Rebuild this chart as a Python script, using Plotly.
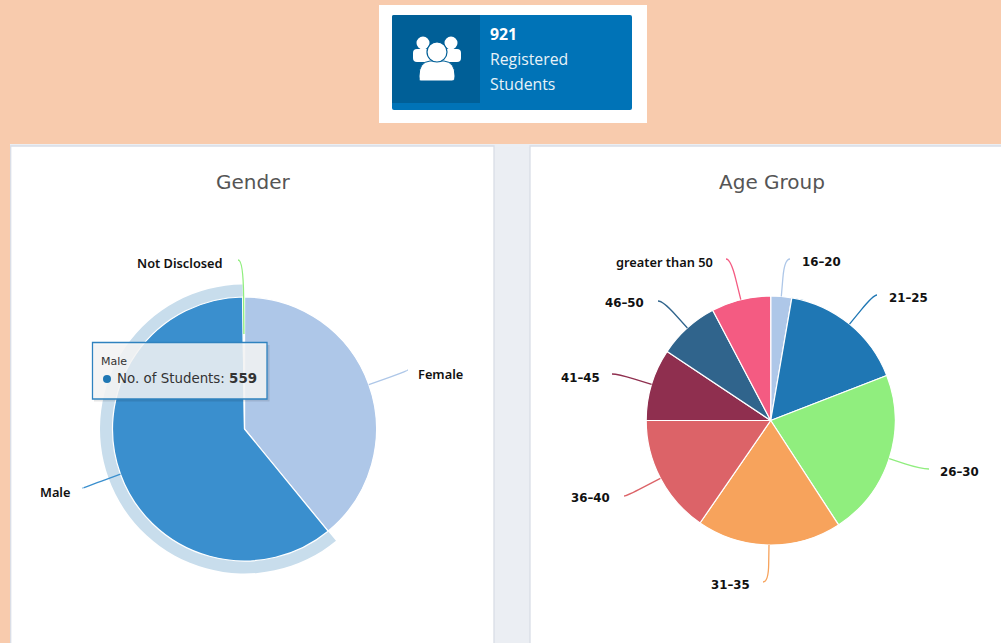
import math
import plotly.graph_objects as go

W, H = 1001, 643

# ---- data ----
gender_labels = ["Female", "Male", "Not Disclosed"]
gender_values = [360, 559, 2]
gender_colors = ["#aec7e8", "#3a8fce", "#90ee7e"]
age_labels = ["16-20", "21-25", "26-30", "31-35", "36-40", "41-45", "46-50", "greater than 50"]
age_values = [25, 151, 200, 173, 142, 86, 73, 71]
age_colors = ["#aec7e8", "#1f77b4", "#90ee7e", "#f7a35c", "#dc6368", "#8f2f4f", "#30648c", "#f45b82"]
registered_students = 921
badge_lines = ["Registered", "Students"]
tooltip_series = "No. of Students"

# ---- layout constants (pixels) ----
PEACH, GAP, BORDER = "#f8cbad", "#ebeef3", "#d9dde6"
LABEL_FONT = dict(family="Noto Sans", size=12.8, color="#111111", weight=600)
RANGE_FONT = dict(family="DejaVu Sans", size=11.8, color="#111111", weight=600)
G_C, G_R, G_HALO = (244.5, 429), 132, 144.5
A_C, A_R = (770.7, 420.5), 124.5
gender_anchor = {  # connector end, label x, label y, label side
    "Female": ((407, 370), 418, 374, "left"),
    "Male": ((83, 488), 70, 492, "right"),
    "Not Disclosed": ((238, 260), 223, 263, "right"),
}
age_anchor = {
    "16-20": ((790, 259), 802, 262, "left"),
    "21-25": ((877, 295), 889, 298, "left"),
    "26-30": ((929, 469), 940, 472, "left"),
    "31-35": ((763, 582), 750, 585, "right"),
    "36-40": ((624, 496), 610, 498, "right"),
    "41-45": ((612, 374), 600, 378, "right"),
    "46-50": ((658, 301), 644, 303, "right"),
    "greater than 50": ((726, 259), 713, 262, "right"),
}


def dom(c, r):
    return dict(x=[(c[0] - r) / W, (c[0] + r) / W], y=[1 - (c[1] + r) / H, 1 - (c[1] - r) / H])


def rect(x0, y0, x1, y1, fill, line=None, lw=0, layer="below"):
    return dict(type="rect", xref="x", yref="y", x0=x0, y0=y0, x1=x1, y1=y1, fillcolor=fill,
                line=dict(color=line or fill, width=lw), layer=layer)


def path(d, fill=None, line=None, lw=0, layer="above"):
    s = dict(type="path", xref="x", yref="y", path=d, layer=layer,
             line=dict(color=line or "rgba(0,0,0,0)", width=lw))
    if fill:
        s["fillcolor"] = fill
    return s


def circle(cx, cy, r, fill, line=None, lw=0, layer="above"):
    return dict(type="circle", xref="x", yref="y", x0=cx - r, y0=cy - r, x1=cx + r, y1=cy + r,
                fillcolor=fill, line=dict(color=line or fill, width=lw), layer=layer)


def text(x, y, s, font, xanchor="left"):
    return dict(xref="x", yref="y", x=x, y=y, text=s, showarrow=False, font=font,
                xanchor=xanchor, yanchor="middle", align=xanchor, borderpad=0, borderwidth=0)


def connectors(labels, values, colors, anchors, c, r, inner=None):
    shapes, notes, acc, total = [], [], 0, sum(values)
    for lab, v, col in zip(labels, values, colors):
        a = math.radians((acc + v / 2) / total * 360)
        acc += v
        ux, uy = math.sin(a), -math.cos(a)
        sr = (inner or {}).get(lab, r)
        sx, sy = c[0] + sr * ux, c[1] + sr * uy
        (ex, ey), lx, ly, side = anchors[lab]
        t = (ey - sy) / uy if abs(uy) > 0.05 else (ex - sx) / ux
        kx, ky = sx + t * ux, sy + t * uy
        px, py = sx + 0.5 * (kx - sx), sy + 0.5 * (ky - sy)
        shapes.append(path(f"M{sx:.1f},{sy:.1f} L{px:.1f},{py:.1f} Q{kx:.1f},{ky:.1f} {ex},{ey}",
                           line=col, lw=1.3))
        font = RANGE_FONT if lab[0].isdigit() else LABEL_FONT
        notes.append(text(lx, ly, lab.replace("-", "\u2013"), font, side))
    return shapes, notes


fig = go.Figure()
fig.add_trace(go.Scatter(x=[], y=[], hoverinfo="skip", showlegend=False))
male_i = gender_labels.index("Male")
fig.add_trace(go.Pie(labels=gender_labels, values=gender_values, sort=False, direction="clockwise",
                     rotation=0, hole=G_R / G_HALO, domain=dom(G_C, G_HALO), textinfo="none",
                     hoverinfo="skip", showlegend=False,
                     marker=dict(colors=["rgba(0,0,0,0)", "#c8ddec", "rgba(0,0,0,0)"],
                                 line=dict(width=0))))
for labs, vals, cols, c, r in [(gender_labels, gender_values, gender_colors, G_C, G_R),
                               (age_labels, age_values, age_colors, A_C, A_R)]:
    fig.add_trace(go.Pie(labels=labs, values=vals, sort=False, direction="clockwise", rotation=0,
                         domain=dom(c, r), textinfo="none", showlegend=False,
                         marker=dict(colors=cols, line=dict(color="#ffffff", width=1.2))))

shapes = [
    rect(10, 144, 1020, 660, GAP),
    rect(10.7, 146, 494, 660, "#ffffff", BORDER, 1.3),
    rect(530, 146, 1020, 660, "#ffffff", BORDER, 1.3),
    rect(379, 5, 647, 123, "#ffffff"),
    path("M394,15 L630,15 Q632,15 632,17 L632,108 Q632,110 630,110 L394,110 Q392,110 392,108 L392,17 Q392,15 394,15 Z",
         fill="#0073b7", layer="below"),
    path("M394,15 L480,15 L480,103 L392,103 L392,17 Q392,15 394,15 Z", fill="#005f97", layer="below"),
    # icon
    circle(423, 43, 6.5, "#ffffff"),
    circle(451, 43, 6.5, "#ffffff"),
    path("M413,53 Q413,49 417,49 L457,49 Q461,49 461,53 L461,58 Q461,62 457,62 L417,62 Q413,62 413,58 Z",
         fill="#ffffff"),
    path("M420,81 Q419,81 419,76 Q419,62 430,61 L444,61 Q455,62 455,76 Q455,81 452,81 Z",
         fill="#ffffff", line="#005f97", lw=1),
    circle(437, 52, 10, "#ffffff", "#005f97", 1.2),
]
g_sh, g_nt = connectors(gender_labels, gender_values, ["#aec7e8", "#3a8fce", "#90ee7e"], gender_anchor,
                        G_C, G_R, inner={"Not Disclosed": 95})
a_sh, a_nt = connectors(age_labels, age_values, age_colors, age_anchor, A_C, A_R)
shapes += g_sh + a_sh
shapes += [
    rect(94, 345, 269.5, 401.5, "rgba(0,0,0,0.10)", layer="above"),
    rect(92.5, 342.5, 267, 399, "rgba(247,247,247,0.85)", "#2f82bf", 1.3, layer="above"),
    circle(107, 379, 4, "#1f77b4"),
]

TXT = dict(family="Open Sans", size=15.8, color="#ffffff")
TXT2 = dict(family="Open Sans", size=15.8, color="#e8f2f8")
TIP = dict(family="DejaVu Sans", size=13.4, color="#333333")
TITLE = dict(family="DejaVu Sans", size=20, color="#555555")
annots = [
    text(490, 34, f"<b>{registered_students}</b>", TXT),
    text(490, 59, badge_lines[0], TXT2),
    text(490, 84, badge_lines[1], TXT2),
    text(253, 182, "Gender", TITLE, "center"),
    text(772, 182, "Age Group", TITLE, "center"),
    text(101, 361, gender_labels[male_i], dict(family="DejaVu Sans", size=11, color="#333333")),
    text(117, 378, f"{tooltip_series}: <b>{gender_values[male_i]}</b>", TIP),
] + g_nt + a_nt

fig.update_layout(
    width=W, height=H, margin=dict(l=0, r=0, t=0, b=0), paper_bgcolor=PEACH, plot_bgcolor=PEACH,
    showlegend=False, shapes=shapes, annotations=annots,
    xaxis=dict(range=[0, W], visible=False, fixedrange=True),
    yaxis=dict(range=[H, 0], visible=False, fixedrange=True),
)
fig.write_html("out.html", config=dict(displayModeBar=False),
               post_script="document.body.style.margin='0';document.body.style.overflow='hidden';")
